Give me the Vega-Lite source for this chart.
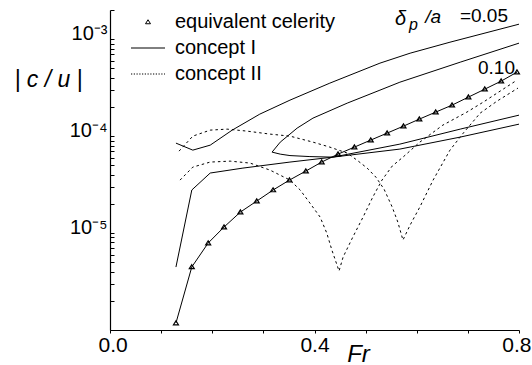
{
  "$schema": "https://vega.github.io/schema/vega-lite/v6.json",
  "width": 409,
  "height": 320,
  "autosize": {"type": "none"},
  "padding": {"left": 110, "top": 10, "right": 13, "bottom": 35},
  "config": {
    "view": {"stroke": null},
    "font": "Liberation Sans",
    "axis": {"domainColor": "black", "tickColor": "black", "labelColor": "black", "titleColor": "black", "grid": false, "labelFont": "Liberation Sans", "titleFont": "Liberation Sans", "domainWidth": 1.2, "tickWidth": 1}
  },
  "datasets": {
    "curves": [
      {"kind": "equivalent celerity", "curve": "E", "i": 0, "fr": 0.129, "cu": 1.18e-6},
      {"kind": "equivalent celerity", "curve": "E", "i": 1, "fr": 0.160, "cu": 4.47e-6},
      {"kind": "equivalent celerity", "curve": "E", "i": 2, "fr": 0.192, "cu": 7.89e-6},
      {"kind": "equivalent celerity", "curve": "E", "i": 3, "fr": 0.223, "cu": 1.153e-5},
      {"kind": "equivalent celerity", "curve": "E", "i": 4, "fr": 0.255, "cu": 1.646e-5},
      {"kind": "equivalent celerity", "curve": "E", "i": 5, "fr": 0.287, "cu": 2.138e-5},
      {"kind": "equivalent celerity", "curve": "E", "i": 6, "fr": 0.319, "cu": 2.78e-5},
      {"kind": "equivalent celerity", "curve": "E", "i": 7, "fr": 0.351, "cu": 3.52e-5},
      {"kind": "equivalent celerity", "curve": "E", "i": 8, "fr": 0.383, "cu": 4.36e-5},
      {"kind": "equivalent celerity", "curve": "E", "i": 9, "fr": 0.414, "cu": 5.40e-5},
      {"kind": "equivalent celerity", "curve": "E", "i": 10, "fr": 0.446, "cu": 6.52e-5},
      {"kind": "equivalent celerity", "curve": "E", "i": 11, "fr": 0.478, "cu": 7.70e-5},
      {"kind": "equivalent celerity", "curve": "E", "i": 12, "fr": 0.510, "cu": 9.10e-5},
      {"kind": "equivalent celerity", "curve": "E", "i": 13, "fr": 0.542, "cu": 1.074e-4},
      {"kind": "equivalent celerity", "curve": "E", "i": 14, "fr": 0.574, "cu": 1.268e-4},
      {"kind": "equivalent celerity", "curve": "E", "i": 15, "fr": 0.605, "cu": 1.497e-4},
      {"kind": "equivalent celerity", "curve": "E", "i": 16, "fr": 0.637, "cu": 1.768e-4},
      {"kind": "equivalent celerity", "curve": "E", "i": 17, "fr": 0.669, "cu": 2.087e-4},
      {"kind": "equivalent celerity", "curve": "E", "i": 18, "fr": 0.701, "cu": 2.525e-4},
      {"kind": "equivalent celerity", "curve": "E", "i": 19, "fr": 0.733, "cu": 3.05e-4},
      {"kind": "equivalent celerity", "curve": "E", "i": 20, "fr": 0.765, "cu": 3.69e-4},
      {"kind": "equivalent celerity", "curve": "E", "i": 21, "fr": 0.796, "cu": 4.57e-4},

      {"kind": "concept I", "curve": "Ia", "i": 0, "fr": 0.129, "cu": 8.47e-5},
      {"kind": "concept I", "curve": "Ia", "i": 1, "fr": 0.162, "cu": 7.17e-5},
      {"kind": "concept I", "curve": "Ia", "i": 2, "fr": 0.196, "cu": 8.07e-5},
      {"kind": "concept I", "curve": "Ia", "i": 3, "fr": 0.239, "cu": 1.153e-4},
      {"kind": "concept I", "curve": "Ia", "i": 4, "fr": 0.293, "cu": 1.686e-4},
      {"kind": "concept I", "curve": "Ia", "i": 5, "fr": 0.352, "cu": 2.35e-4},
      {"kind": "concept I", "curve": "Ia", "i": 6, "fr": 0.430, "cu": 3.52e-4},
      {"kind": "concept I", "curve": "Ia", "i": 7, "fr": 0.528, "cu": 5.66e-4},
      {"kind": "concept I", "curve": "Ia", "i": 8, "fr": 0.587, "cu": 7.17e-4},
      {"kind": "concept I", "curve": "Ia", "i": 9, "fr": 0.665, "cu": 9.31e-4},
      {"kind": "concept I", "curve": "Ia", "i": 10, "fr": 0.800, "cu": 1.428e-3},

      {"kind": "concept I", "curve": "Ib", "i": 0, "fr": 0.800, "cu": 9.10e-4},
      {"kind": "concept I", "curve": "Ib", "i": 1, "fr": 0.685, "cu": 5.79e-4},
      {"kind": "concept I", "curve": "Ib", "i": 2, "fr": 0.567, "cu": 3.60e-4},
      {"kind": "concept I", "curve": "Ib", "i": 3, "fr": 0.528, "cu": 2.98e-4},
      {"kind": "concept I", "curve": "Ib", "i": 4, "fr": 0.464, "cu": 2.189e-4},
      {"kind": "concept I", "curve": "Ib", "i": 5, "fr": 0.397, "cu": 1.533e-4},
      {"kind": "concept I", "curve": "Ib", "i": 6, "fr": 0.366, "cu": 1.209e-4},
      {"kind": "concept I", "curve": "Ib", "i": 7, "fr": 0.352, "cu": 1.049e-4},
      {"kind": "concept I", "curve": "Ib", "i": 8, "fr": 0.333, "cu": 8.67e-5},
      {"kind": "concept I", "curve": "Ib", "i": 9, "fr": 0.317, "cu": 6.84e-5},
      {"kind": "concept I", "curve": "Ib", "i": 10, "fr": 0.333, "cu": 6.52e-5},
      {"kind": "concept I", "curve": "Ib", "i": 11, "fr": 0.352, "cu": 6.30e-5},
      {"kind": "concept I", "curve": "Ib", "i": 12, "fr": 0.391, "cu": 6.15e-5},
      {"kind": "concept I", "curve": "Ib", "i": 13, "fr": 0.436, "cu": 6.07e-5},
      {"kind": "concept I", "curve": "Ib", "i": 14, "fr": 0.567, "cu": 7.35e-5},
      {"kind": "concept I", "curve": "Ib", "i": 15, "fr": 0.685, "cu": 9.77e-5},
      {"kind": "concept I", "curve": "Ib", "i": 16, "fr": 0.800, "cu": 1.329e-4},

      {"kind": "concept I", "curve": "Ic", "i": 0, "fr": 0.129, "cu": 4.46e-6},
      {"kind": "concept I", "curve": "Ic", "i": 1, "fr": 0.160, "cu": 2.78e-5},
      {"kind": "concept I", "curve": "Ic", "i": 2, "fr": 0.196, "cu": 4.16e-5},
      {"kind": "concept I", "curve": "Ic", "i": 3, "fr": 0.260, "cu": 4.68e-5},
      {"kind": "concept I", "curve": "Ic", "i": 4, "fr": 0.352, "cu": 5.40e-5},
      {"kind": "concept I", "curve": "Ic", "i": 5, "fr": 0.436, "cu": 6.07e-5},
      {"kind": "concept I", "curve": "Ic", "i": 6, "fr": 0.567, "cu": 8.27e-5},
      {"kind": "concept I", "curve": "Ic", "i": 7, "fr": 0.685, "cu": 1.181e-4},
      {"kind": "concept I", "curve": "Ic", "i": 8, "fr": 0.800, "cu": 1.646e-4},

      {"kind": "concept II", "curve": "IIa", "i": 0, "fr": 0.135, "cu": 7.00e-5},
      {"kind": "concept II", "curve": "IIa", "i": 1, "fr": 0.162, "cu": 1.000e-4},
      {"kind": "concept II", "curve": "IIa", "i": 2, "fr": 0.196, "cu": 1.153e-4},
      {"kind": "concept II", "curve": "IIa", "i": 3, "fr": 0.229, "cu": 1.181e-4},
      {"kind": "concept II", "curve": "IIa", "i": 4, "fr": 0.268, "cu": 1.126e-4},
      {"kind": "concept II", "curve": "IIa", "i": 5, "fr": 0.313, "cu": 1.049e-4},
      {"kind": "concept II", "curve": "IIa", "i": 6, "fr": 0.352, "cu": 1.000e-4},
      {"kind": "concept II", "curve": "IIa", "i": 7, "fr": 0.397, "cu": 8.67e-5},
      {"kind": "concept II", "curve": "IIa", "i": 8, "fr": 0.430, "cu": 7.70e-5},
      {"kind": "concept II", "curve": "IIa", "i": 9, "fr": 0.464, "cu": 6.68e-5},
      {"kind": "concept II", "curve": "IIa", "i": 10, "fr": 0.483, "cu": 5.66e-5},
      {"kind": "concept II", "curve": "IIa", "i": 11, "fr": 0.503, "cu": 4.68e-5},
      {"kind": "concept II", "curve": "IIa", "i": 12, "fr": 0.520, "cu": 3.78e-5},
      {"kind": "concept II", "curve": "IIa", "i": 13, "fr": 0.536, "cu": 2.84e-5},
      {"kind": "concept II", "curve": "IIa", "i": 14, "fr": 0.552, "cu": 1.854e-5},
      {"kind": "concept II", "curve": "IIa", "i": 15, "fr": 0.563, "cu": 1.298e-5},
      {"kind": "concept II", "curve": "IIa", "i": 16, "fr": 0.573, "cu": 8.47e-6},
      {"kind": "concept II", "curve": "IIa", "i": 17, "fr": 0.587, "cu": 1.209e-5},
      {"kind": "concept II", "curve": "IIa", "i": 18, "fr": 0.606, "cu": 1.854e-5},
      {"kind": "concept II", "curve": "IIa", "i": 19, "fr": 0.632, "cu": 3.52e-5},
      {"kind": "concept II", "curve": "IIa", "i": 20, "fr": 0.665, "cu": 7.17e-5},
      {"kind": "concept II", "curve": "IIa", "i": 21, "fr": 0.691, "cu": 1.074e-4},
      {"kind": "concept II", "curve": "IIa", "i": 22, "fr": 0.724, "cu": 1.726e-4},
      {"kind": "concept II", "curve": "IIa", "i": 23, "fr": 0.757, "cu": 2.295e-4},
      {"kind": "concept II", "curve": "IIa", "i": 24, "fr": 0.798, "cu": 3.13e-4},

      {"kind": "concept II", "curve": "IIb", "i": 0, "fr": 0.137, "cu": 3.52e-5},
      {"kind": "concept II", "curve": "IIb", "i": 1, "fr": 0.162, "cu": 4.79e-5},
      {"kind": "concept II", "curve": "IIb", "i": 2, "fr": 0.196, "cu": 5.40e-5},
      {"kind": "concept II", "curve": "IIb", "i": 3, "fr": 0.235, "cu": 5.52e-5},
      {"kind": "concept II", "curve": "IIb", "i": 4, "fr": 0.274, "cu": 5.27e-5},
      {"kind": "concept II", "curve": "IIb", "i": 5, "fr": 0.313, "cu": 4.46e-5},
      {"kind": "concept II", "curve": "IIb", "i": 6, "fr": 0.352, "cu": 3.52e-5},
      {"kind": "concept II", "curve": "IIb", "i": 7, "fr": 0.372, "cu": 2.78e-5},
      {"kind": "concept II", "curve": "IIb", "i": 8, "fr": 0.391, "cu": 2.04e-5},
      {"kind": "concept II", "curve": "IIb", "i": 9, "fr": 0.411, "cu": 1.462e-5},
      {"kind": "concept II", "curve": "IIb", "i": 10, "fr": 0.424, "cu": 1.0e-5},
      {"kind": "concept II", "curve": "IIb", "i": 11, "fr": 0.434, "cu": 6.68e-6},
      {"kind": "concept II", "curve": "IIb", "i": 12, "fr": 0.448, "cu": 4.06e-6},
      {"kind": "concept II", "curve": "IIb", "i": 13, "fr": 0.456, "cu": 5.66e-6},
      {"kind": "concept II", "curve": "IIb", "i": 14, "fr": 0.475, "cu": 9.10e-6},
      {"kind": "concept II", "curve": "IIb", "i": 15, "fr": 0.495, "cu": 1.462e-5},
      {"kind": "concept II", "curve": "IIb", "i": 16, "fr": 0.514, "cu": 2.35e-5},
      {"kind": "concept II", "curve": "IIb", "i": 17, "fr": 0.532, "cu": 3.52e-5},
      {"kind": "concept II", "curve": "IIb", "i": 18, "fr": 0.552, "cu": 4.91e-5},
      {"kind": "concept II", "curve": "IIb", "i": 19, "fr": 0.573, "cu": 6.07e-5},
      {"kind": "concept II", "curve": "IIb", "i": 20, "fr": 0.606, "cu": 8.67e-5},
      {"kind": "concept II", "curve": "IIb", "i": 21, "fr": 0.651, "cu": 1.298e-4},
      {"kind": "concept II", "curve": "IIb", "i": 22, "fr": 0.698, "cu": 1.768e-4},
      {"kind": "concept II", "curve": "IIb", "i": 23, "fr": 0.730, "cu": 2.241e-4},
      {"kind": "concept II", "curve": "IIb", "i": 24, "fr": 0.763, "cu": 2.91e-4},
      {"kind": "concept II", "curve": "IIb", "i": 25, "fr": 0.796, "cu": 3.78e-4}
    ]
  },
  "layer": [
    {
      "data": {"name": "curves"},
      "transform": [{"filter": "datum.kind !== 'concept II'"}],
      "mark": {"type": "line", "color": "black", "strokeWidth": 1},
      "encoding": {
        "x": {
          "field": "fr", "type": "quantitative",
          "scale": {"domain": [0, 0.8], "nice": false, "zero": false},
          "axis": {
            "values": [0, 0.1, 0.2, 0.3, 0.4, 0.5, 0.6, 0.7, 0.8],
            "labelExpr": "(datum.value === 0 || datum.value === 0.4 || datum.value === 0.8) ? format(datum.value, '.1f') : ''",
            "labelFontSize": 21, "labelFlush": true, "labelFlushOffset": 12, "labelOverlap": false,
            "tickSize": 3, "labelPadding": 1,
            "title": "Fr", "titleFontSize": 24, "titleFontStyle": "italic", "titleFontWeight": "normal",
            "titleX": 248, "titleY": 31, "titleBaseline": "alphabetic", "titleAlign": "center"
          }
        },
        "y": {
          "field": "cu", "type": "quantitative",
          "scale": {"type": "log", "domain": [1e-6, 2e-3], "nice": false},
          "axis": {
            "values": [1e-6, 2e-6, 3e-6, 4e-6, 5e-6, 6e-6, 7e-6, 8e-6, 9e-6, 1e-5, 2e-5, 3e-5, 4e-5, 5e-5, 6e-5, 7e-5, 8e-5, 9e-5, 1e-4, 2e-4, 3e-4, 4e-4, 5e-4, 6e-4, 7e-4, 8e-4, 9e-4, 1e-3, 2e-3],
            "labelExpr": "datum.value === 0.001 ? '10⁻³' : datum.value === 0.0001 ? '10⁻⁴' : datum.value === 0.00001 ? '10⁻⁵' : ''",
            "labelFontSize": 20, "labelOverlap": false, "labelBaseline": "alphabetic",
            "tickSize": -4, "labelPadding": 7,
            "title": "| c / u |", "titleAngle": 0, "titleFontSize": 23, "titleFontStyle": "italic", "titleFontWeight": "normal",
            "titleX": -62, "titleY": 76, "titleAlign": "center", "titleBaseline": "alphabetic"
          }
        },
        "detail": {"field": "curve"},
        "order": {"field": "i"}
      }
    },
    {
      "data": {"name": "curves"},
      "transform": [{"filter": "datum.kind === 'concept II'"}],
      "mark": {"type": "line", "color": "black", "strokeWidth": 1, "strokeDash": [2.5, 3]},
      "encoding": {
        "x": {"field": "fr", "type": "quantitative"},
        "y": {"field": "cu", "type": "quantitative"},
        "detail": {"field": "curve"},
        "order": {"field": "i"}
      }
    },
    {
      "data": {"name": "curves"},
      "transform": [{"filter": "datum.kind === 'equivalent celerity'"}],
      "mark": {"type": "point", "filled": false, "color": "black", "strokeWidth": 1.2, "opacity": 1, "size": 100},
      "encoding": {
        "x": {"field": "fr", "type": "quantitative"},
        "y": {"field": "cu", "type": "quantitative"},
        "shape": {
          "field": "kind", "type": "nominal",
          "scale": {
            "domain": ["equivalent celerity", "concept I", "concept II"],
            "range": [
              "M0,-0.45L0.5,0.35L-0.5,0.35Z",
              "M-3.4,0H3.4",
              "M-3.4,0h0.25M-2.85,0h0.25M-2.3,0h0.25M-1.75,0h0.25M-1.2,0h0.25M-0.65,0h0.25M-0.1,0h0.25M0.45,0h0.25M1,0h0.25M1.55,0h0.25M2.1,0h0.25M2.65,0h0.25M3.2,0h0.2"
            ]
          },
          "legend": {
            "title": null, "orient": "none", "legendX": 28, "legendY": 2,
            "labelFontSize": 20, "labelFont": "Liberation Sans", "labelColor": "black", "labelOffset": 17, "labelLimit": 300,
            "rowPadding": 6, "symbolSize": 100, "symbolStrokeWidth": 1, "symbolStrokeColor": "black"
          }
        }
      }
    },
    {
      "data": {"values": [{"fr": 0.8, "cu": 0.001428, "label": "=0.05"}]},
      "mark": {"type": "text", "align": "right", "baseline": "alphabetic", "dx": -11, "dy": -2, "fontSize": 19, "color": "black"},
      "encoding": {"x": {"field": "fr", "type": "quantitative"}, "y": {"field": "cu", "type": "quantitative"}, "text": {"field": "label"}}
    },
    {
      "data": {"values": [{"fr": 0.8, "cu": 0.001428, "label": "/a"}]},
      "mark": {"type": "text", "align": "right", "baseline": "alphabetic", "dx": -78, "dy": -1, "fontSize": 19, "fontStyle": "italic", "color": "black"},
      "encoding": {"x": {"field": "fr", "type": "quantitative"}, "y": {"field": "cu", "type": "quantitative"}, "text": {"field": "label"}}
    },
    {
      "data": {"values": [{"fr": 0.8, "cu": 0.001428, "label": "p"}]},
      "mark": {"type": "text", "align": "right", "baseline": "alphabetic", "dx": -101, "dy": 6, "fontSize": 16, "fontStyle": "italic", "color": "black"},
      "encoding": {"x": {"field": "fr", "type": "quantitative"}, "y": {"field": "cu", "type": "quantitative"}, "text": {"field": "label"}}
    },
    {
      "data": {"values": [{"fr": 0.8, "cu": 0.001428, "label": "δ"}]},
      "mark": {"type": "text", "align": "right", "baseline": "alphabetic", "dx": -113, "dy": 1, "fontSize": 20, "fontStyle": "italic", "color": "black"},
      "encoding": {"x": {"field": "fr", "type": "quantitative"}, "y": {"field": "cu", "type": "quantitative"}, "text": {"field": "label"}}
    },
    {
      "data": {"values": [{"fr": 0.8, "cu": 0.00091, "label": "0.10"}]},
      "mark": {"type": "text", "align": "right", "baseline": "alphabetic", "dx": -4, "dy": 31, "fontSize": 19, "color": "black"},
      "encoding": {"x": {"field": "fr", "type": "quantitative"}, "y": {"field": "cu", "type": "quantitative"}, "text": {"field": "label"}}
    }
  ]
}
